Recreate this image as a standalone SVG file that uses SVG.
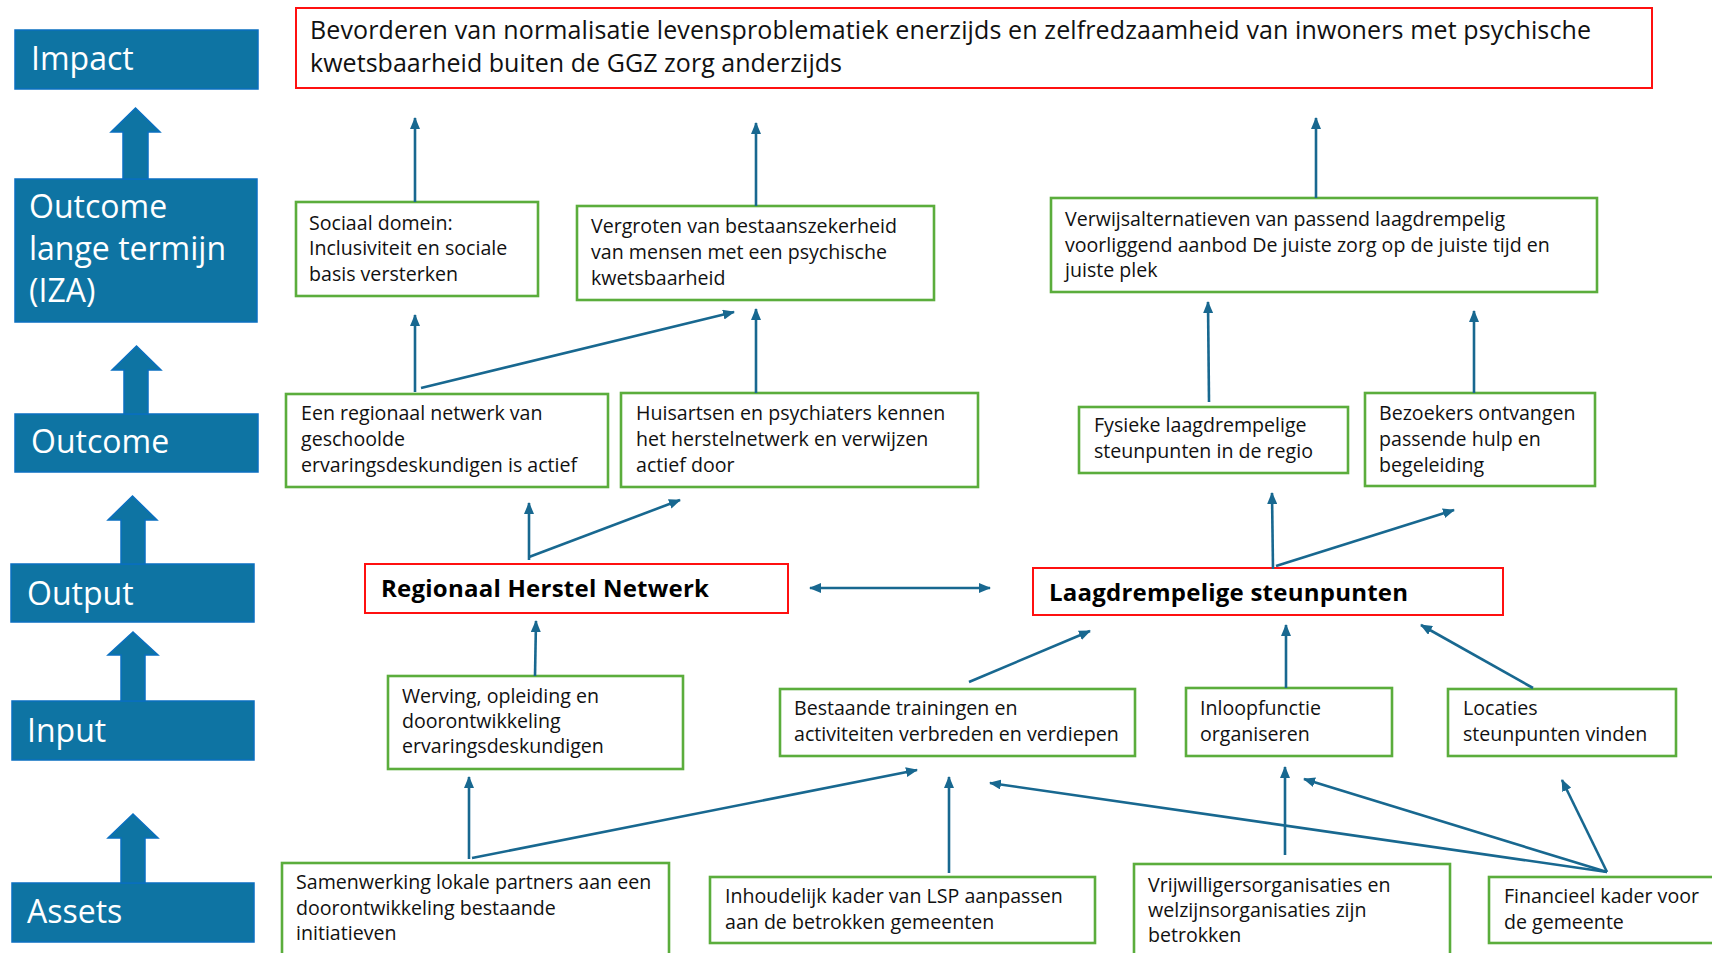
<svg xmlns="http://www.w3.org/2000/svg" width="1712" height="953" viewBox="0 0 1712 953">
  <style>
    .lvl { fill: #0E74A3; stroke: #0A6FC0; stroke-width: 1.5; }
    .lvltxt { font-family: "Open Sans", "Liberation Sans", sans-serif; font-size: 32px; fill: #ffffff; }
    .box { fill: #ffffff; stroke: #5BAD3C; stroke-width: 2.6; }
    .key { fill: #ffffff; stroke: #FF1010; stroke-width: 2; }
    .txt { font-family: "Open Sans", "Liberation Sans", sans-serif; font-size: 19.6px; fill: #111111; }
    .title { font-family: "Open Sans", "Liberation Sans", sans-serif; font-size: 25px; fill: #111111; }
    .bold { font-family: "Open Sans", "Liberation Sans", sans-serif; font-size: 24px; font-weight: bold; fill: #000000; }
    .conn line { stroke: #186890; stroke-width: 2.6; fill: none; marker-end: url(#ah); }
  </style>
  <defs>
    <marker id="ah" viewBox="0 0 12 10" refX="11" refY="5" markerWidth="12" markerHeight="10" markerUnits="userSpaceOnUse" orient="auto-start-reverse">
      <path d="M0,0 L12,5 L0,10 Z" fill="#186890"/>
    </marker>
  </defs>

  <rect width="1712" height="953" fill="#ffffff"/>

  <!-- level labels on the left -->
  <g id="level-impact">
    <rect class="lvl" x="15" y="30" width="243" height="59"/>
    <text class="lvltxt" x="31" y="70">Impact</text>
  </g>
  <g id="level-outcome-lt">
    <rect class="lvl" x="15" y="179" width="242" height="143"/>
    <text class="lvltxt" x="29" y="218">Outcome</text>
    <text class="lvltxt" x="29" y="260">lange termijn</text>
    <text class="lvltxt" x="29" y="302">(IZA)</text>
  </g>
  <g id="level-outcome">
    <rect class="lvl" x="15" y="414" width="243" height="58"/>
    <text class="lvltxt" x="31" y="453">Outcome</text>
  </g>
  <g id="level-output">
    <rect class="lvl" x="11" y="564" width="243" height="58"/>
    <text class="lvltxt" x="27" y="605">Output</text>
  </g>
  <g id="level-input">
    <rect class="lvl" x="12" y="701" width="242" height="59"/>
    <text class="lvltxt" x="27" y="742">Input</text>
  </g>
  <g id="level-assets">
    <rect class="lvl" x="12" y="883" width="242" height="59"/>
    <text class="lvltxt" x="27" y="923">Assets</text>
  </g>

  <!-- block arrows between levels -->
  <g id="level-arrows" class="lvl">
    <polygon points="135.5,108 160,132 148,132 148,179 123,179 123,132 111,132"/>
    <polygon points="136.5,346 161,370 148,370 148,414 124,414 124,370 112,370"/>
    <polygon points="132.5,496 157,520 145,520 145,564 121,564 121,520 108,520"/>
    <polygon points="133,632 158,655 145,655 145,701 121,701 121,655 108,655"/>
    <polygon points="133,814 158,838 145,838 145,883 121,883 121,838 108,838"/>
  </g>

  <!-- impact -->
  <g id="impact">
    <rect class="key" x="296" y="8" width="1356" height="80"/>
    <text class="title" x="310" y="39" textLength="1281">Bevorderen van normalisatie levensproblematiek enerzijds en zelfredzaamheid van inwoners met psychische</text>
    <text class="title" x="310" y="72" textLength="532">kwetsbaarheid buiten de GGZ zorg anderzijds</text>
  </g>

  <!-- long-term outcomes -->
  <g id="sociaal-domein">
    <rect class="box" x="296" y="202" width="242" height="94"/>
    <text class="txt" x="309" y="230">Sociaal domein:</text>
    <text class="txt" x="309" y="255">Inclusiviteit en sociale</text>
    <text class="txt" x="309" y="281">basis versterken</text>
  </g>
  <g id="bestaanszekerheid">
    <rect class="box" x="577" y="206" width="357" height="94"/>
    <text class="txt" x="591" y="233">Vergroten van bestaanszekerheid</text>
    <text class="txt" x="591" y="259">van mensen met een psychische</text>
    <text class="txt" x="591" y="285">kwetsbaarheid</text>
  </g>
  <g id="verwijsalternatieven">
    <rect class="box" x="1051" y="198" width="546" height="94"/>
    <text class="txt" x="1065" y="226">Verwijsalternatieven van passend laagdrempelig</text>
    <text class="txt" x="1065" y="252">voorliggend aanbod De juiste zorg op de juiste tijd en</text>
    <text class="txt" x="1065" y="277">juiste plek</text>
  </g>

  <!-- outcomes -->
  <g id="regionaal-netwerk-actief">
    <rect class="box" x="286" y="394" width="322" height="93"/>
    <text class="txt" x="301" y="420">Een regionaal netwerk van</text>
    <text class="txt" x="301" y="446">geschoolde</text>
    <text class="txt" x="301" y="472">ervaringsdeskundigen is actief</text>
  </g>
  <g id="huisartsen">
    <rect class="box" x="621" y="393" width="357" height="94"/>
    <text class="txt" x="636" y="420">Huisartsen en psychiaters kennen</text>
    <text class="txt" x="636" y="446">het herstelnetwerk en verwijzen</text>
    <text class="txt" x="636" y="472">actief door</text>
  </g>
  <g id="fysieke-steunpunten">
    <rect class="box" x="1079" y="407" width="269" height="66"/>
    <text class="txt" x="1094" y="432">Fysieke laagdrempelige</text>
    <text class="txt" x="1094" y="458">steunpunten in de regio</text>
  </g>
  <g id="bezoekers">
    <rect class="box" x="1365" y="393" width="230" height="93"/>
    <text class="txt" x="1379" y="420">Bezoekers ontvangen</text>
    <text class="txt" x="1379" y="446">passende hulp en</text>
    <text class="txt" x="1379" y="472">begeleiding</text>
  </g>

  <!-- outputs -->
  <g id="regionaal-herstel-netwerk">
    <rect class="key" x="365" y="564" width="423" height="49"/>
    <text class="bold" x="381" y="597" textLength="328">Regionaal Herstel Netwerk</text>
  </g>
  <g id="laagdrempelige-steunpunten">
    <rect class="key" x="1033" y="568" width="470" height="47"/>
    <text class="bold" x="1049" y="601" textLength="359">Laagdrempelige steunpunten</text>
  </g>

  <!-- inputs -->
  <g id="werving">
    <rect class="box" x="388" y="676" width="295" height="93"/>
    <text class="txt" x="402" y="703">Werving, opleiding en</text>
    <text class="txt" x="402" y="728">doorontwikkeling</text>
    <text class="txt" x="402" y="753">ervaringsdeskundigen</text>
  </g>
  <g id="bestaande-trainingen">
    <rect class="box" x="780" y="689" width="355" height="67"/>
    <text class="txt" x="794" y="715">Bestaande trainingen en</text>
    <text class="txt" x="794" y="741">activiteiten verbreden en verdiepen</text>
  </g>
  <g id="inloopfunctie">
    <rect class="box" x="1186" y="688" width="206" height="68"/>
    <text class="txt" x="1200" y="715">Inloopfunctie</text>
    <text class="txt" x="1200" y="741">organiseren</text>
  </g>
  <g id="locaties">
    <rect class="box" x="1448" y="689" width="228" height="67"/>
    <text class="txt" x="1463" y="715">Locaties</text>
    <text class="txt" x="1463" y="741">steunpunten vinden</text>
  </g>

  <!-- assets -->
  <g id="samenwerking">
    <rect class="box" x="282" y="863" width="387" height="100"/>
    <text class="txt" x="296" y="889">Samenwerking lokale partners aan een</text>
    <text class="txt" x="296" y="915">doorontwikkeling bestaande</text>
    <text class="txt" x="296" y="940">initiatieven</text>
  </g>
  <g id="inhoudelijk-kader">
    <rect class="box" x="710" y="877" width="385" height="66"/>
    <text class="txt" x="725" y="903">Inhoudelijk kader van LSP aanpassen</text>
    <text class="txt" x="725" y="929">aan de betrokken gemeenten</text>
  </g>
  <g id="vrijwilligers">
    <rect class="box" x="1134" y="864" width="316" height="100"/>
    <text class="txt" x="1148" y="892">Vrijwilligersorganisaties en</text>
    <text class="txt" x="1148" y="917">welzijnsorganisaties zijn</text>
    <text class="txt" x="1148" y="942">betrokken</text>
  </g>
  <g id="financieel-kader">
    <rect class="box" x="1489" y="877" width="240" height="66"/>
    <text class="txt" x="1504" y="903">Financieel kader voor</text>
    <text class="txt" x="1504" y="929">de gemeente</text>
  </g>

  <!-- connectors -->
  <g id="connectors" class="conn">
    <line x1="415" y1="202" x2="415" y2="118"/>
    <line x1="756" y1="206" x2="756" y2="123"/>
    <line x1="1316" y1="198" x2="1316" y2="118"/>
    <line x1="415" y1="392" x2="415" y2="315"/>
    <line x1="421" y1="388" x2="734" y2="312"/>
    <line x1="756" y1="393" x2="756" y2="309"/>
    <line x1="1209" y1="402" x2="1208" y2="302"/>
    <line x1="1474" y1="393" x2="1474" y2="311"/>
    <line x1="529" y1="560" x2="529" y2="503"/>
    <line x1="529" y1="557" x2="680" y2="500"/>
    <line x1="810" y1="588" x2="990" y2="588" style="marker-start:url(#ah)"/>
    <line x1="1273" y1="569" x2="1272" y2="493"/>
    <line x1="1276" y1="566" x2="1454" y2="510"/>
    <line x1="535" y1="676" x2="536" y2="621"/>
    <line x1="969" y1="682" x2="1090" y2="631"/>
    <line x1="1286" y1="688" x2="1286" y2="625"/>
    <line x1="1533" y1="688" x2="1421" y2="625"/>
    <line x1="469" y1="859" x2="469" y2="777"/>
    <line x1="472" y1="858" x2="917" y2="770"/>
    <line x1="949" y1="873" x2="949" y2="777"/>
    <line x1="1607" y1="872" x2="990" y2="783"/>
    <line x1="1285" y1="855" x2="1285" y2="767"/>
    <line x1="1607" y1="872" x2="1304" y2="779"/>
    <line x1="1607" y1="872" x2="1562" y2="780"/>
  </g>
</svg>
